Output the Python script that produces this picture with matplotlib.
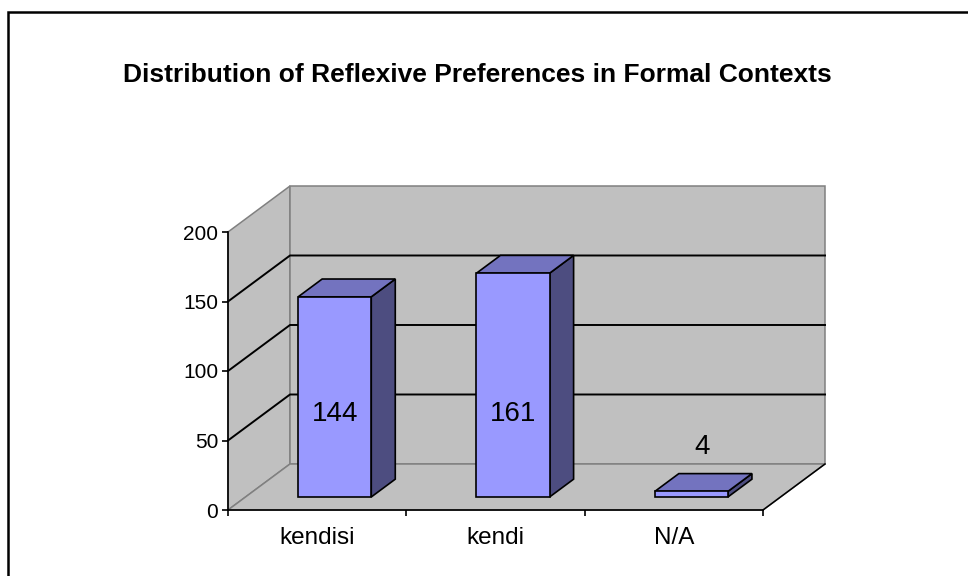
import matplotlib.pyplot as plt
from matplotlib.patches import Polygon, Rectangle

# chart data
categories = ["kendisi", "kendi", "N/A"]
counts = [144, 161, 4]
yticks = [0, 50, 100, 150, 200]

plt.rcParams['font.family'] = ['Liberation Sans', 'DejaVu Sans']

fig = plt.figure(figsize=(9.68, 5.76), dpi=100)
ax = fig.add_axes([228 / 968, 66 / 576, 535 / 968, 278 / 576])
ax.set_xlim(0, len(categories))
ax.set_ylim(0, 200)
ax.patch.set_visible(False)

# depth offset of the 3d box in data units
DX = 0.3477
DY = 33.1


def P(x, y, d):
    return (x + DX * d, y + DY * d)


wall = "#c0c0c0"
edge = "#808080"
n = len(categories)
ymax = yticks[-1]

# side wall, back wall, floor
ax.add_patch(Polygon([P(0, 0, 0), P(0, 0, 1), P(0, ymax, 1), P(0, ymax, 0)],
                     closed=True, facecolor=wall, edgecolor=edge, lw=1.1, clip_on=False, zorder=0.5))
ax.add_patch(Polygon([P(0, 0, 1), P(n, 0, 1), P(n, ymax, 1), P(0, ymax, 1)],
                     closed=True, facecolor=wall, edgecolor=edge, lw=1.1, clip_on=False, zorder=0.5))
ax.add_patch(Polygon([P(0, 0, 0), P(n, 0, 0), P(n, 0, 1), P(0, 0, 1)],
                     closed=True, facecolor=wall, edgecolor=edge, lw=1.1, clip_on=False, zorder=0.5))
# right floor edge is black
xs, ys = zip(P(n, 0, 0), P(n, 0, 1))
ax.plot(xs, ys, color="black", lw=1.1, clip_on=False, zorder=0.7)

# gridlines on side and back wall
for v in yticks[1:-1]:
    pts = [P(0, v, 0), P(0, v, 1), P(n, v, 1)]
    xs, ys = zip(*pts)
    ax.plot(xs, ys, color="black", lw=1.4, clip_on=False, zorder=0.6)

# bars
w = 0.41
d0, d1 = 0.283, 0.67
front_c = "#9999ff"
side_c = "#4d4d80"
top_c = "#7373bf"
for i, v in enumerate(counts):
    x0 = i + (1 - w) / 2
    x1 = x0 + w
    faces = [
        ([P(x1, 0, d0), P(x1, 0, d1), P(x1, v, d1), P(x1, v, d0)], side_c),
        ([P(x0, v, d0), P(x1, v, d0), P(x1, v, d1), P(x0, v, d1)], top_c),
        ([P(x0, 0, d0), P(x1, 0, d0), P(x1, v, d0), P(x0, v, d0)], front_c),
    ]
    for pts, c in faces:
        ax.add_patch(Polygon(pts, closed=True, facecolor=c, edgecolor="black",
                             lw=1.2, joinstyle="miter", clip_on=False, zorder=2))
    # value labels
    if v > 20:
        lx, ly = P(i + 0.5, 60, d0)
    else:
        lx, ly = P(i + 0.56, v + 32, d0)
    ax.text(lx, ly, str(v), ha="center", va="center", fontsize=20, zorder=3)

# axes
for s in ["top", "right"]:
    ax.spines[s].set_visible(False)
ax.spines["left"].set_linewidth(1.2)
ax.spines["bottom"].set_linewidth(1.2)
ax.spines["left"].set_zorder(1)
ax.spines["bottom"].set_zorder(1)
ax.set_yticks(yticks)
ax.tick_params(axis="y", direction="out", length=4.5, width=1.2, pad=2.5, labelsize=15)
ax.set_xticks(range(n + 1))
ax.set_xticklabels([])
ax.set_xticks([i + 0.5 for i in range(n)], minor=True)
ax.set_xticklabels(categories, minor=True)
ax.tick_params(axis="x", which="major", direction="out", length=4.5, width=1.2)
ax.tick_params(axis="x", which="minor", length=0, pad=12, labelsize=17.5)

fig.text(477 / 968, 1 - 75 / 576, "Distribution of Reflexive Preferences in Formal Contexts",
         ha="center", va="center", fontsize=19, fontweight="bold")

# outer chart frame
fig.add_artist(Rectangle((8 / 968, -0.1), 2, (1 - 12 / 576) + 0.1, transform=fig.transFigure,
                         fill=False, edgecolor="black", lw=1.8))

fig.savefig("out.png", dpi=100)
